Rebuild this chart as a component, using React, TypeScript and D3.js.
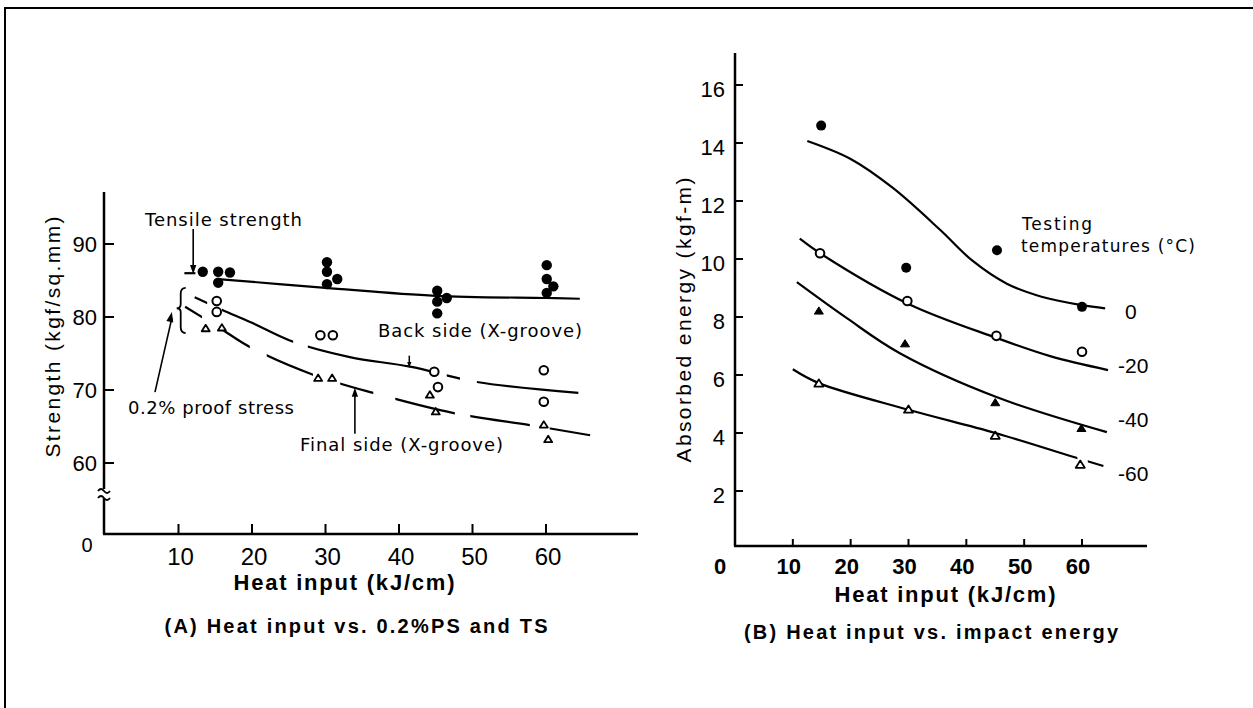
import React from 'react';
import * as d3 from 'd3';

// ---------- data ----------
const heatTicks = [10, 20, 30, 40, 50, 60];
const strengthTicks = [60, 70, 80, 90];
const energyTicks = [2, 4, 6, 8, 10, 12, 14, 16];

// (A) tensile strength (filled circles)
const tsPoints: [number, number][] = [
  [13.3, 86.2], [15.4, 86.2], [17.0, 86.1], [15.4, 84.7],
  [30.2, 87.5], [30.2, 86.2], [30.2, 84.5], [31.6, 85.2],
  [45.2, 83.6], [45.2, 82.1], [46.5, 82.6], [45.2, 80.5],
  [60.1, 87.1], [60.1, 85.2], [61.0, 84.2], [60.1, 83.3],
];
// (A) 0.2% proof stress, back side (open circles)
const backPoints: [number, number][] = [
  [15.2, 82.2], [15.2, 80.7], [29.3, 77.5], [31.0, 77.5],
  [44.8, 72.5], [45.3, 70.4], [59.7, 72.7], [59.7, 68.4],
];
// (A) 0.2% proof stress, final side (open triangles)
const finalPoints: [number, number][] = [
  [13.7, 78.4], [15.9, 78.5], [29.0, 71.6], [30.9, 71.6],
  [44.2, 69.3], [45.0, 67.0], [59.7, 65.2], [60.3, 63.2],
];
const tsCurve: [number, number][] = [[15.4, 85.2], [30, 84.0], [45, 82.9], [60, 82.6], [64.6, 82.5]];
const tsStub: [number, number][] = [[10.8, 86.0], [12.3, 86.0]];
const backCurve: [number, number][] = [
  [12.2, 82.7], [15.9, 81.0], [20, 79.2], [25.6, 76.6], [33.3, 74.5], [41.5, 73.2], [50.6, 71.1], [64.4, 69.6],
];
const finalCurve: [number, number][] = [
  [10.9, 81.4], [15.6, 78.5], [19.7, 75.9], [28.3, 72.1], [36.5, 69.6], [47.6, 66.8], [57.8, 65.2], [66, 63.8],
];

// (B) absorbed energy by testing temperature
const tempLabels = ['0', '-20', '-40', '-60'];
const e0Points: [number, number][] = [[14.9, 14.6], [29.6, 9.7], [45.3, 10.3], [60, 8.35]];
const e20Points: [number, number][] = [[14.7, 10.2], [29.8, 8.55], [45.2, 7.35], [60, 6.8]];
const e40Points: [number, number][] = [[14.5, 8.2], [29.4, 7.07], [45, 5.04], [59.9, 4.15]];
const e60Points: [number, number][] = [[14.5, 5.7], [30, 4.8], [45, 3.9], [59.7, 2.9]];
const e0Curve: [number, number][] = [
  [12.5, 14.07], [20, 13.45], [27.3, 12.45], [35.5, 11.0], [41, 9.95], [47, 9.15], [53, 8.7], [60, 8.41], [64, 8.3],
];
const e20Curve: [number, number][] = [[11.2, 10.7], [14.7, 10.2], [30, 8.45], [45.2, 7.28], [54.5, 6.65], [64.5, 6.17]];
const e40Curve: [number, number][] = [[10.7, 9.2], [19.4, 7.95], [28.5, 6.75], [45.2, 5.24], [64.3, 4.03]];
const e60Curve: [number, number][] = [[10, 6.2], [14.5, 5.72], [30, 4.8], [45, 4.0], [59.7, 3.1], [63.7, 2.86]];
// label anchor values for the temperature labels (in energy units)
const tempLabelValues = [8.2, 6.34, 4.48, 2.62];

// dash visibility ranges (style)
const backDashes: [number, number][] = [[11, 13.9], [15.9, 25.6], [27.6, 44.2], [46.5, 48.3], [50.6, 67]];
const finalDashes: [number, number][] = [[10, 13.2], [15.6, 19.7], [22, 28.3], [32, 36.5], [39.5, 47.6], [49.7, 57.8], [60.5, 67]];
const e60Dashes: [number, number][] = [[9, 59.2], [61, 66]];

// ---------- layout ----------
const xA = d3.scaleLinear().domain([0, 60]).range([105, 546]);
const yA = d3.scaleLinear().domain([60, 90]).range([463, 244]);
const xB = d3.scaleLinear().domain([0, 60]).range([735, 1082]);
const yB = d3.scaleLinear().domain([0, 16]).range([549, 85]);

const A_AXIS_X = 104, A_AXIS_Y = 534, A_TOP = 192, A_RIGHT = 638;
const B_AXIS_X = 735, B_AXIS_Y = 546, B_TOP = 53, B_RIGHT = 1147;

const FONT = "'Liberation Sans', Arial, sans-serif";
const AFONT = "'DejaVu Sans', 'Liberation Sans', sans-serif";

const lineA = d3.line<[number, number]>().x(d => xA(d[0])).y(d => yA(d[1])).curve(d3.curveCatmullRom.alpha(0.5));
const lineB = d3.line<[number, number]>().x(d => xB(d[0])).y(d => yB(d[1])).curve(d3.curveCatmullRom.alpha(0.5));

const tri = (cx: number, cy: number, w: number) => {
  const h = w * 0.8;
  return `M${cx},${cy - h * 0.6} L${cx + w / 2},${cy + h * 0.4} L${cx - w / 2},${cy + h * 0.4} Z`;
};

const arrowHead = (x: number, y: number, dx: number, dy: number, size = 8) => {
  const len = Math.hypot(dx, dy);
  const ux = dx / len, uy = dy / len;
  const px = -uy, py = ux;
  const bx = x - ux * size, by = y - uy * size;
  return `M${x},${y} L${bx + px * size * 0.35},${by + py * size * 0.35} L${bx - px * size * 0.35},${by - py * size * 0.35} Z`;
};

export default function App() {
  // annotation anchors in data units
  const tsArrow = { x: 12.0, y1: 92.05, y2: 85.9 };
  const psArrow = { x1: 6.8, y1: 69.7, x2: 9.1, y2: 80.7 };
  const bracket = { x: 10.3, top: 84.0, mid: 81.2, bot: 77.8 };
  const backArrow = { x: 41.4, y1: 74.7, y2: 73.0 };
  const finalArrow = { x: 34.0, y1: 64.0, y2: 70.3 };

  const bx = xA(bracket.x), bt = yA(bracket.top), bm = yA(bracket.mid), bb = yA(bracket.bot);
  const bracketPath = `M${bx + 5},${bt} Q${bx},${bt} ${bx},${bt + 6} L${bx},${bm - 4} Q${bx},${bm} ${bx - 4},${bm} Q${bx},${bm} ${bx},${bm + 4} L${bx},${bb - 6} Q${bx},${bb} ${bx + 5},${bb}`;

  const clipRects = (ranges: [number, number][], xs: d3.ScaleLinear<number, number>) =>
    ranges.map((r, i) => <rect key={i} x={xs(r[0])} y={0} width={xs(r[1]) - xs(r[0])} height={708} />);

  const psx1 = xA(psArrow.x1), psy1 = yA(psArrow.y1), psx2 = xA(psArrow.x2), psy2 = yA(psArrow.y2);

  const curvesB = [e0Curve, e20Curve, e40Curve, e60Curve];

  return (
    <svg width={1253} height={708} style={{ position: 'absolute', left: 0, top: 0, background: '#fff' }}>
      <defs>
        <clipPath id="backClip">{clipRects(backDashes, xA)}</clipPath>
        <clipPath id="finalClip">{clipRects(finalDashes, xA)}</clipPath>
        <clipPath id="e60Clip">{clipRects(e60Dashes, xB)}</clipPath>
      </defs>
      <rect x={0} y={0} width={1253} height={708} fill="#fff" />
      {/* frame */}
      <path d="M5,708 L5,8 L1253,8" fill="none" stroke="#000" strokeWidth={2} />

      {/* ===================== (A) ===================== */}
      <g>
        <line x1={A_AXIS_X} y1={A_TOP} x2={A_AXIS_X} y2={A_AXIS_Y} stroke="#000" strokeWidth={2.5} />
        <line x1={A_AXIS_X - 1} y1={A_AXIS_Y} x2={A_RIGHT} y2={A_AXIS_Y} stroke="#000" strokeWidth={2.5} />
        {/* axis break */}
        <rect x={A_AXIS_X - 3} y={489} width={6} height={9} fill="#fff" />
        <path d={`M${A_AXIS_X - 6},${491} q3,-4 6,0 t6,0`} fill="none" stroke="#000" strokeWidth={1.8} />
        <path d={`M${A_AXIS_X - 6},${498} q3,-4 6,0 t6,0`} fill="none" stroke="#000" strokeWidth={1.8} />
        {strengthTicks.map(t => (
          <g key={t}>
            <line x1={A_AXIS_X} x2={A_AXIS_X + 10} y1={yA(t)} y2={yA(t)} stroke="#000" strokeWidth={2} />
            <text x={A_AXIS_X - 7} y={yA(t) + 8} textAnchor="end" fontFamily={FONT} fontSize={22}>{t}</text>
          </g>
        ))}
        {heatTicks.map(t => (
          <g key={t}>
            <line x1={xA(t)} x2={xA(t)} y1={A_AXIS_Y} y2={A_AXIS_Y - 10} stroke="#000" strokeWidth={2} />
            <text x={xA(t) + 2} y={A_AXIS_Y + 31} textAnchor="middle" fontFamily={FONT} fontSize={24}>{t}</text>
          </g>
        ))}
        <text x={87} y={552} textAnchor="middle" fontFamily={FONT} fontSize={20}>0</text>

        <text transform="translate(52,337) rotate(-90)" textAnchor="middle" dominantBaseline="central"
          fontFamily={FONT} fontSize={21} textLength={241} lengthAdjust="spacing">Strength (kgf/sq.mm)</text>
        <text x={344} y={590} textAnchor="middle" fontFamily={FONT} fontSize={22} fontWeight="bold"
          textLength={221} lengthAdjust="spacing">Heat input (kJ/cm)</text>
        <text x={356} y={633} textAnchor="middle" fontFamily={FONT} fontSize={20} fontWeight="bold"
          textLength={383} lengthAdjust="spacing">(A) Heat input vs. 0.2%PS and TS</text>

        {/* curves */}
        <path d={lineA(tsCurve) || ''} fill="none" stroke="#000" strokeWidth={2.2} />
        <path d={lineA(tsStub) || ''} fill="none" stroke="#000" strokeWidth={2.2} />
        <path d={lineA(backCurve) || ''} fill="none" stroke="#000" strokeWidth={2.2} clipPath="url(#backClip)" />
        <path d={lineA(finalCurve) || ''} fill="none" stroke="#000" strokeWidth={2.2} clipPath="url(#finalClip)" />

        {/* markers */}
        {tsPoints.map((p, i) => <circle key={'ts' + i} cx={xA(p[0])} cy={yA(p[1])} r={5.2} fill="#000" />)}
        {backPoints.map((p, i) => <circle key={'bk' + i} cx={xA(p[0])} cy={yA(p[1])} r={4.3} fill="#fff" stroke="#000" strokeWidth={2} />)}
        {finalPoints.map((p, i) => <path key={'fn' + i} d={tri(xA(p[0]), yA(p[1]), 8)} fill="#fff" stroke="#000" strokeWidth={1.8} strokeLinejoin="round" />)}

        {/* annotations */}
        <text x={145} y={226} fontFamily={AFONT} fontSize={18} textLength={157} lengthAdjust="spacing">Tensile strength</text>
        <line x1={xA(tsArrow.x)} x2={xA(tsArrow.x)} y1={yA(tsArrow.y1)} y2={yA(tsArrow.y2) - 6} stroke="#000" strokeWidth={1.6} />
        <path d={arrowHead(xA(tsArrow.x), yA(tsArrow.y2), 0, 1, 9)} fill="#000" />

        <path d={bracketPath} fill="none" stroke="#000" strokeWidth={1.8} />
        <line x1={psx1} y1={psy1} x2={psx2} y2={psy2 + 6} stroke="#000" strokeWidth={1.6} />
        <path d={arrowHead(psx2, psy2, psx2 - psx1, psy2 - psy1, 10)} fill="#000" />
        <text x={128} y={414} fontFamily={AFONT} fontSize={18} textLength={166} lengthAdjust="spacing">0.2% proof stress</text>

        <text x={378} y={337} fontFamily={AFONT} fontSize={18} textLength={204} lengthAdjust="spacing">Back side (X-groove)</text>
        <line x1={xA(backArrow.x)} x2={xA(backArrow.x)} y1={yA(backArrow.y1)} y2={yA(backArrow.y2) - 4} stroke="#000" strokeWidth={1.5} />
        <path d={arrowHead(xA(backArrow.x), yA(backArrow.y2), 0, 1, 6)} fill="#000" />

        <text x={300} y={451} fontFamily={AFONT} fontSize={18} textLength={203} lengthAdjust="spacing">Final side (X-groove)</text>
        <line x1={xA(finalArrow.x)} x2={xA(finalArrow.x)} y1={yA(finalArrow.y1)} y2={yA(finalArrow.y2) + 6} stroke="#000" strokeWidth={1.6} />
        <path d={arrowHead(xA(finalArrow.x), yA(finalArrow.y2), 0, -1, 9)} fill="#000" />
      </g>

      {/* ===================== (B) ===================== */}
      <g>
        <line x1={B_AXIS_X} y1={B_TOP} x2={B_AXIS_X} y2={B_AXIS_Y} stroke="#000" strokeWidth={2.5} />
        <line x1={B_AXIS_X - 1} y1={B_AXIS_Y} x2={B_RIGHT} y2={B_AXIS_Y} stroke="#000" strokeWidth={2.5} />
        {energyTicks.map(t => (
          <g key={t}>
            <line x1={B_AXIS_X} x2={B_AXIS_X + 8} y1={yB(t)} y2={yB(t)} stroke="#000" strokeWidth={2} />
            <text x={B_AXIS_X - 10} y={yB(t) + 12} textAnchor="end" fontFamily={FONT} fontSize={22}>{t}</text>
          </g>
        ))}
        {heatTicks.map(t => (
          <g key={t}>
            <line x1={xB(t)} x2={xB(t)} y1={B_AXIS_Y} y2={B_AXIS_Y - 7} stroke="#000" strokeWidth={2} />
            <text x={xB(t) - 4} y={B_AXIS_Y + 28} textAnchor="middle" fontFamily={FONT} fontSize={22} fontWeight="bold">{t}</text>
          </g>
        ))}
        <text x={720} y={574} textAnchor="middle" fontFamily={FONT} fontSize={22} fontWeight="bold">0</text>

        <text transform="translate(683,320) rotate(-90)" textAnchor="middle" dominantBaseline="central"
          fontFamily={FONT} fontSize={21} textLength={285} lengthAdjust="spacing">Absorbed energy (kgf-m)</text>
        <text x={945} y={602} textAnchor="middle" fontFamily={FONT} fontSize={22} fontWeight="bold"
          textLength={221} lengthAdjust="spacing">Heat input (kJ/cm)</text>
        <text x={931} y={639} textAnchor="middle" fontFamily={FONT} fontSize={20} fontWeight="bold"
          textLength={374} lengthAdjust="spacing">(B) Heat input vs. impact energy</text>

        {curvesB.map((c, i) => (
          <path key={'cb' + i} d={lineB(c) || ''} fill="none" stroke="#000" strokeWidth={2.2}
            clipPath={i === 3 ? 'url(#e60Clip)' : undefined} />
        ))}

        {e0Points.map((p, i) => <circle key={'a' + i} cx={xB(p[0])} cy={yB(p[1])} r={5} fill="#000" />)}
        {e20Points.map((p, i) => <circle key={'b' + i} cx={xB(p[0])} cy={yB(p[1])} r={4.3} fill="#fff" stroke="#000" strokeWidth={2} />)}
        {e40Points.map((p, i) => <path key={'c' + i} d={tri(xB(p[0]), yB(p[1]), 9)} fill="#000" stroke="#000" strokeWidth={1} />)}
        {e60Points.map((p, i) => <path key={'d' + i} d={tri(xB(p[0]), yB(p[1]), 9)} fill="#fff" stroke="#000" strokeWidth={1.8} strokeLinejoin="round" />)}

        {tempLabels.map((l, i) => (
          <text key={l} x={l === '0' ? 1125 : 1118} y={yB(tempLabelValues[i]) + 8} fontFamily={FONT} fontSize={21}>{l}</text>
        ))}

        <text x={1022} y={230} fontFamily={AFONT} fontSize={17} textLength={70} lengthAdjust="spacing">Testing</text>
        <text x={1021} y={252} fontFamily={AFONT} fontSize={17} textLength={174} lengthAdjust="spacing">temperatures (°C)</text>
      </g>
    </svg>
  );
}
